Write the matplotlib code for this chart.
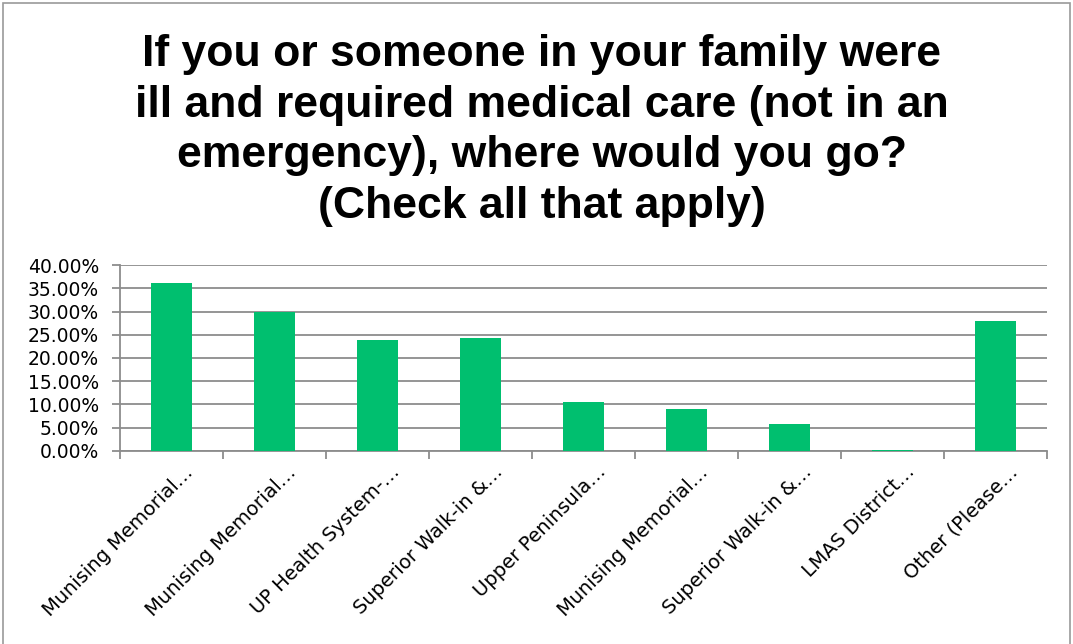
import matplotlib.pyplot as plt
from matplotlib.patches import Rectangle
from matplotlib.ticker import FuncFormatter, MultipleLocator
from matplotlib.transforms import ScaledTranslation

# Data
categories = ["Munising Memorial…", "Munising Memorial…", "UP Health System-…",
              "Superior Walk-in &…", "Upper Peninsula…", "Munising Memorial…",
              "Superior Walk-in &…", "LMAS District…", "Other (Please…"]
values = [36.2, 30.0, 23.9, 24.4, 10.5, 9.0, 5.9, 0.3, 28.0]

title = ("If you or someone in your family were\n"
         "ill and required medical care (not in an\n"
         "emergency), where would you go?\n"
         "(Check all that apply)")

plt.rcParams['font.family'] = ['DejaVu Sans']

fig = plt.figure(figsize=(10.73, 6.44), dpi=100)
ax = fig.add_axes([120 / 1073, 0.2997, 927 / 1073, 0.2888])

x = range(len(categories))
ax.bar(x, values, width=0.39, color='#00BF6F', zorder=3)

ax.set_xlim(-0.5, len(categories) - 0.5)
ax.set_ylim(0, 40)
ax.yaxis.set_major_locator(MultipleLocator(5))
ax.yaxis.set_major_formatter(FuncFormatter(lambda v, p: f"{v:.2f}%"))
ax.grid(axis='y', color='#8c8c8c', linewidth=1.3, zorder=0)

# category boundary ticks like Excel
ax.set_xticks([i - 0.5 for i in range(len(categories) + 1)])
ax.set_xticklabels([])
ax.set_xticks(list(x), minor=True)
ax.set_xticklabels(categories, minor=True, rotation=45, ha='right', va='center',
                   rotation_mode='anchor', fontsize=14)
ax.tick_params(axis='x', which='minor', length=0, pad=0)
ax.tick_params(axis='x', which='major', length=6, color='#8c8c8c', width=1.3)
ax.tick_params(axis='y', length=6, color='#8c8c8c', width=1.3, labelsize=13.5, pad=9)

offset = ScaledTranslation(0.19, -0.18, fig.dpi_scale_trans)
for lab in ax.get_xticklabels(minor=True):
    lab.set_transform(lab.get_transform() + offset)

for s in ['top', 'right']:
    ax.spines[s].set_visible(False)
for s in ['left', 'bottom']:
    ax.spines[s].set_color('#8c8c8c')
    ax.spines[s].set_linewidth(1.3)

fig.text(0.505, 1 - 34 / 644, title, ha='center', va='top', fontsize=32,
         fontweight='bold', family=['Liberation Sans', 'DejaVu Sans'],
         linespacing=1.3)

# outer chart border
fig.patches.append(Rectangle((0.003, -0.01), 0.994, 1.005, transform=fig.transFigure,
                             fill=False, edgecolor='#9a9a9a', linewidth=1.2))

fig.savefig('out.png', dpi=100)
